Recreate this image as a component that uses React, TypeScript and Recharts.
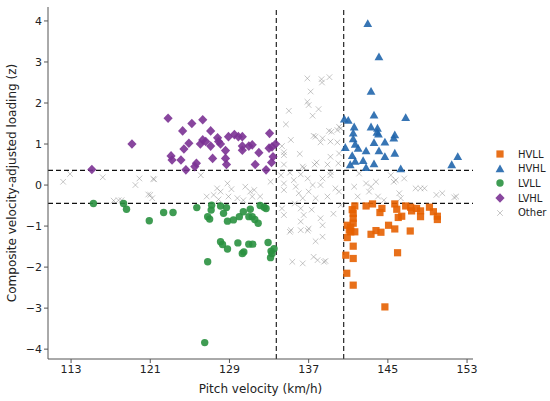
import React from 'react';
import { ScatterChart, Scatter, XAxis, YAxis, ReferenceLine } from 'recharts';

// groups of [pitch velocity, loading z]
const hvll = [
  [141.66, -0.51], [142.8, -0.51], [143.45, -0.46], [144.4, -0.57], [144.2, -0.67], [145.7, -0.46],
  [145.9, -0.59], [146.05, -0.79], [146.4, -0.76], [146.8, -0.51], [147.3, -0.54], [147.4, -0.63],
  [147.9, -0.57], [148.3, -0.63], [148.3, -0.77], [149.2, -0.54], [149.6, -0.65], [150.0, -0.76],
  [150.0, -0.84], [141.5, -0.69], [141.5, -0.81], [141.5, -0.93], [140.9, -0.98], [141.25, -1.03],
  [141.66, -1.14], [140.9, -1.28], [141.25, -1.14], [141.5, -1.49], [140.75, -1.71], [141.5, -1.79],
  [140.85, -2.15], [141.5, -2.44], [144.7, -2.97], [145.98, -1.65], [143.3, -1.2], [143.8, -1.11],
  [144.3, -1.15], [145.07, -0.98], [145.7, -1.07], [147.26, -1.12], [141.1, -1.1], [141.4, -0.6],
];

const hvhl = [
  [142.97, 3.93], [144.1, 3.12], [143.3, 2.28], [143.6, 1.7], [146.8, 1.64], [140.6, 1.6],
  [141.0, 1.57], [141.6, 1.41], [141.5, 1.26], [141.5, 1.12], [141.7, 0.99], [142.0, 0.89],
  [140.7, 0.91], [141.4, 0.71], [141.7, 0.57], [141.2, 0.49], [142.5, 0.59], [142.8, 0.83],
  [142.8, 0.42], [143.3, 1.41], [143.95, 1.38], [143.9, 1.28], [144.05, 1.24], [143.6, 1.03],
  [144.1, 0.83], [144.7, 1.04], [144.7, 0.69], [143.6, 0.51], [145.6, 1.14], [145.7, 1.22],
  [145.7, 0.77], [146.3, 0.39], [151.45, 0.49], [152.06, 0.69],
];

const lvll = [
  [115.26, -0.45], [118.3, -0.45], [118.6, -0.59], [120.9, -0.87], [122.35, -0.67], [123.3, -0.67],
  [125.7, -0.55], [126.8, -0.77], [127.0, -0.83], [127.2, -0.49], [127.15, -0.61], [128.1, -0.51],
  [128.7, -0.55], [128.4, -0.69], [128.8, -0.88], [129.4, -0.85], [130.0, -0.77], [130.4, -0.65],
  [130.96, -0.77], [131.1, -0.59], [131.3, -0.77], [131.56, -0.84], [131.9, -0.93], [132.1, -0.5],
  [132.5, -0.54], [132.7, -0.57], [128.1, -1.38], [128.3, -1.45], [128.8, -1.56], [129.85, -1.41],
  [130.95, -1.44], [131.35, -1.44], [130.45, -1.63], [130.3, -1.67], [132.9, -1.4], [133.5, -1.55],
  [133.2, -1.61], [133.15, -1.77], [133.3, -1.67], [126.8, -1.87], [126.5, -3.84],
];

const lvhl = [
  [115.1, 0.38], [119.15, 1.0], [122.8, 1.63], [124.27, 1.32], [125.2, 1.5], [126.3, 1.59],
  [127.1, 1.32], [123.1, 0.71], [123.2, 0.61], [124.1, 0.61], [124.4, 0.88], [124.9, 1.02],
  [124.6, 0.37], [125.5, 0.45], [125.66, 0.53], [126.06, 1.0], [126.3, 1.1], [126.6, 1.06],
  [127.1, 0.95], [127.3, 0.65], [127.8, 1.15], [127.9, 1.06], [128.1, 1.0], [128.6, 0.84],
  [128.6, 0.65], [128.7, 0.5], [128.9, 1.18], [129.5, 1.23], [129.9, 1.18], [130.3, 1.18],
  [130.3, 0.95], [130.3, 0.85], [130.96, 0.95], [131.3, 0.98], [131.97, 0.79], [131.6, 0.5],
  [132.7, 0.37], [133.05, 1.26], [133.0, 0.9], [133.3, 0.93], [133.66, 1.0], [133.25, 0.55],
  [133.4, 0.69],
];

const other = [
  [136.87, 2.6], [138.3, 2.58], [139.1, 2.63], [138.35, 2.5], [137.2, 2.28], [136.87, 2.03],
  [137.0, 1.95], [138.0, 1.85], [137.4, 1.69], [135.0, 1.81], [134.7, 1.48], [140.07, 1.42],
  [140.24, 1.38], [139.9, 1.34], [139.3, 1.3], [137.5, 1.2], [138.4, 1.14], [138.2, 1.04],
  [139.2, 1.06], [139.9, 1.04], [135.2, 1.1], [134.3, 0.95], [134.5, 0.8], [136.1, 0.76],
  [139.2, 0.69], [140.07, 0.77], [138.9, 0.5], [137.6, 0.5], [134.5, 0.5], [136.5, 0.41],
  [137.7, 1.18], [139.05, 1.32], [134.5, 0.73], [136.4, 0.45], [137.8, 0.55], [140.0, 0.53],
  [134.2, 0.24], [134.5, 0.04], [134.5, -0.12], [135.5, 0.12], [135.7, -0.04], [136.2, 0.26],
  [136.9, 0.16], [137.4, 0.0], [137.0, -0.16], [138.2, 0.0], [138.4, 0.16], [139.2, 0.24],
  [139.7, -0.08], [138.9, -0.28], [137.7, -0.32], [136.4, -0.32], [133.15, 0.08], [131.5, -0.12],
  [132.1, -0.28], [139.2, 0.32], [140.24, -0.49], [140.07, -0.16], [135.1, 0.3], [136.0, -0.2],
  [134.3, -0.57], [134.5, -0.73], [136.2, -0.57], [136.5, -0.73], [136.2, -0.89], [137.0, -1.06],
  [138.2, -0.81], [138.4, -0.98], [135.2, -1.1], [136.2, -1.1], [137.7, -1.37], [138.4, -1.26],
  [135.35, -1.87], [136.4, -1.91], [137.5, -1.75], [138.55, -1.87], [137.9, -1.83], [138.7, -1.85],
  [135.1, -1.14], [136.9, -1.11], [137.3, -0.6], [139.5, -0.7], [135.6, -0.45],
  [141.6, -0.04], [142.8, 0.04], [143.3, -0.04], [143.1, -0.16], [143.8, 0.08], [144.0, -0.28],
  [144.6, -0.37], [145.6, 0.08], [146.15, -0.2], [146.3, -0.32], [146.65, 0.16], [148.3, -0.08],
  [149.9, -0.24], [150.5, -0.2], [151.9, -0.28], [141.95, -0.28], [142.1, 0.28], [145.3, 0.24],
  [145.8, 0.12], [147.8, -0.08], [148.7, -0.08], [151.7, -0.3],
  [112.2, 0.08], [112.9, 0.27], [116.2, 0.19], [119.5, 0.0], [119.9, 0.16], [121.3, 0.15],
  [120.8, -0.23], [121.2, -0.32], [117.3, -0.38], [117.8, -0.37], [118.1, -0.37], [126.1, 0.24],
  [127.75, -0.08], [128.1, -0.16], [127.4, -0.24], [128.8, 0.04], [128.9, -0.28], [129.8, -0.32],
  [130.6, -0.04], [131.1, -0.16], [131.3, -0.28], [130.4, -0.37], [126.7, -0.28], [121.4, 0.14],
  [121.0, -0.24], [127.9, -0.35], [129.2, -0.1],
];

const xTicks = [113, 121, 129, 137, 145, 153];
const yTicks = [-4, -3, -2, -1, 0, 1, 2, 3, 4];
const xCuts = [133.73, 140.54];
const yCuts = [0.358, -0.447];

const legendItems = ['HVLL', 'HVHL', 'LVLL', 'LVHL', 'Other'];

const toPoints = (arr: number[][]) => arr.map(([x, y]) => ({ x, y }));

const COLORS: Record<string, string> = {
  HVLL: '#e66101',
  HVHL: '#2166ac',
  LVLL: '#2a9140',
  LVHL: '#7b3294',
  Other: '#8a8a8a',
};

const FONT = '"DejaVu Sans", sans-serif';

const markerShape = (kind: string, cx: number, cy: number) => {
  const c = COLORS[kind];
  if (kind === 'HVLL') return <rect x={cx - 3.6} y={cy - 3.6} width={7.2} height={7.2} fill={c} fillOpacity={0.9} />;
  if (kind === 'HVHL')
    return <polygon points={`${cx},${cy - 4.6} ${cx - 4.4},${cy + 3.2} ${cx + 4.4},${cy + 3.2}`} fill={c} fillOpacity={0.9} />;
  if (kind === 'LVLL') return <circle cx={cx} cy={cy} r={3.7} fill={c} fillOpacity={0.9} />;
  if (kind === 'LVHL')
    return <polygon points={`${cx},${cy - 4.8} ${cx + 4.6},${cy} ${cx},${cy + 4.8} ${cx - 4.6},${cy}`} fill={c} fillOpacity={0.9} />;
  return (
    <g stroke={c} strokeOpacity={0.55} strokeWidth={0.9}>
      <line x1={cx - 2.8} y1={cy - 2.8} x2={cx + 2.8} y2={cy + 2.8} />
      <line x1={cx - 2.8} y1={cy + 2.8} x2={cx + 2.8} y2={cy - 2.8} />
    </g>
  );
};

const shapeFor = (kind: string) => (props: any) => markerShape(kind, props.cx, props.cy);

const fmtY = (v: number) => (v < 0 ? `\u2212${Math.abs(v)}` : String(v));

const yTitle = (props: any) => {
  const vb = props.viewBox || { y: 7, height: 352 };
  const cy = vb.y + vb.height / 2;
  return (
    <text x={12} y={cy} transform={`rotate(-90 12 ${cy})`} textAnchor="middle" dominantBaseline="central"
      fontFamily={FONT} fontSize={12} fill="#222">
      Composite velocity-adjusted loading (z)
    </text>
  );
};

const xTitle = (props: any) => {
  const vb = props.viewBox || { x: 48, width: 425 };
  return (
    <text x={vb.x + vb.width / 2} y={393} textAnchor="middle" fontFamily={FONT} fontSize={12} fill="#222">
      Pitch velocity (km/h)
    </text>
  );
};

export default function App() {
  const axisStroke = '#555';
  return (
    <div style={{ position: 'absolute', left: 0, top: 0, width: 550, height: 401, background: '#fff' }}>
      <ScatterChart width={550} height={401} margin={{ top: 7, right: 77, bottom: 0, left: 8 }}>
        <XAxis
          type="number"
          dataKey="x"
          domain={[110.67, 153.6]}
          ticks={xTicks}
          allowDataOverflow
          height={42}
          tickSize={4}
          stroke={axisStroke}
          tick={{ fill: '#222', fontSize: 11, fontFamily: FONT }}
          label={xTitle}
        />
        <YAxis
          type="number"
          dataKey="y"
          domain={[-4.24, 4.34]}
          ticks={yTicks}
          allowDataOverflow
          width={40}
          tickSize={4}
          stroke={axisStroke}
          tickFormatter={fmtY}
          tick={{ fill: '#222', fontSize: 11, fontFamily: FONT }}
          label={yTitle}
        />
        {xCuts.map((v) => (
          <ReferenceLine key={`x${v}`} x={v} stroke="#111" strokeWidth={1.1} strokeDasharray="5 3" />
        ))}
        {yCuts.map((v) => (
          <ReferenceLine key={`y${v}`} y={v} stroke="#111" strokeWidth={1.1} strokeDasharray="5 3" />
        ))}
        <Scatter name="Other" data={toPoints(other)} shape={shapeFor('Other')} isAnimationActive={false} />
        <Scatter name="LVLL" data={toPoints(lvll)} shape={shapeFor('LVLL')} isAnimationActive={false} />
        <Scatter name="LVHL" data={toPoints(lvhl)} shape={shapeFor('LVHL')} isAnimationActive={false} />
        <Scatter name="HVLL" data={toPoints(hvll)} shape={shapeFor('HVLL')} isAnimationActive={false} />
        <Scatter name="HVHL" data={toPoints(hvhl)} shape={shapeFor('HVHL')} isAnimationActive={false} />
      </ScatterChart>
      <div style={{ position: 'absolute', left: 493, top: 147, fontFamily: FONT, fontSize: 10, color: '#222' }}>
        {legendItems.map((k) => (
          <div key={k} style={{ display: 'flex', alignItems: 'center', height: 14.6 }}>
            <svg width={14} height={14} style={{ marginRight: 11 }}>
              {markerShape(k, 7, 7)}
            </svg>
            <span>{k}</span>
          </div>
        ))}
      </div>
    </div>
  );
}
